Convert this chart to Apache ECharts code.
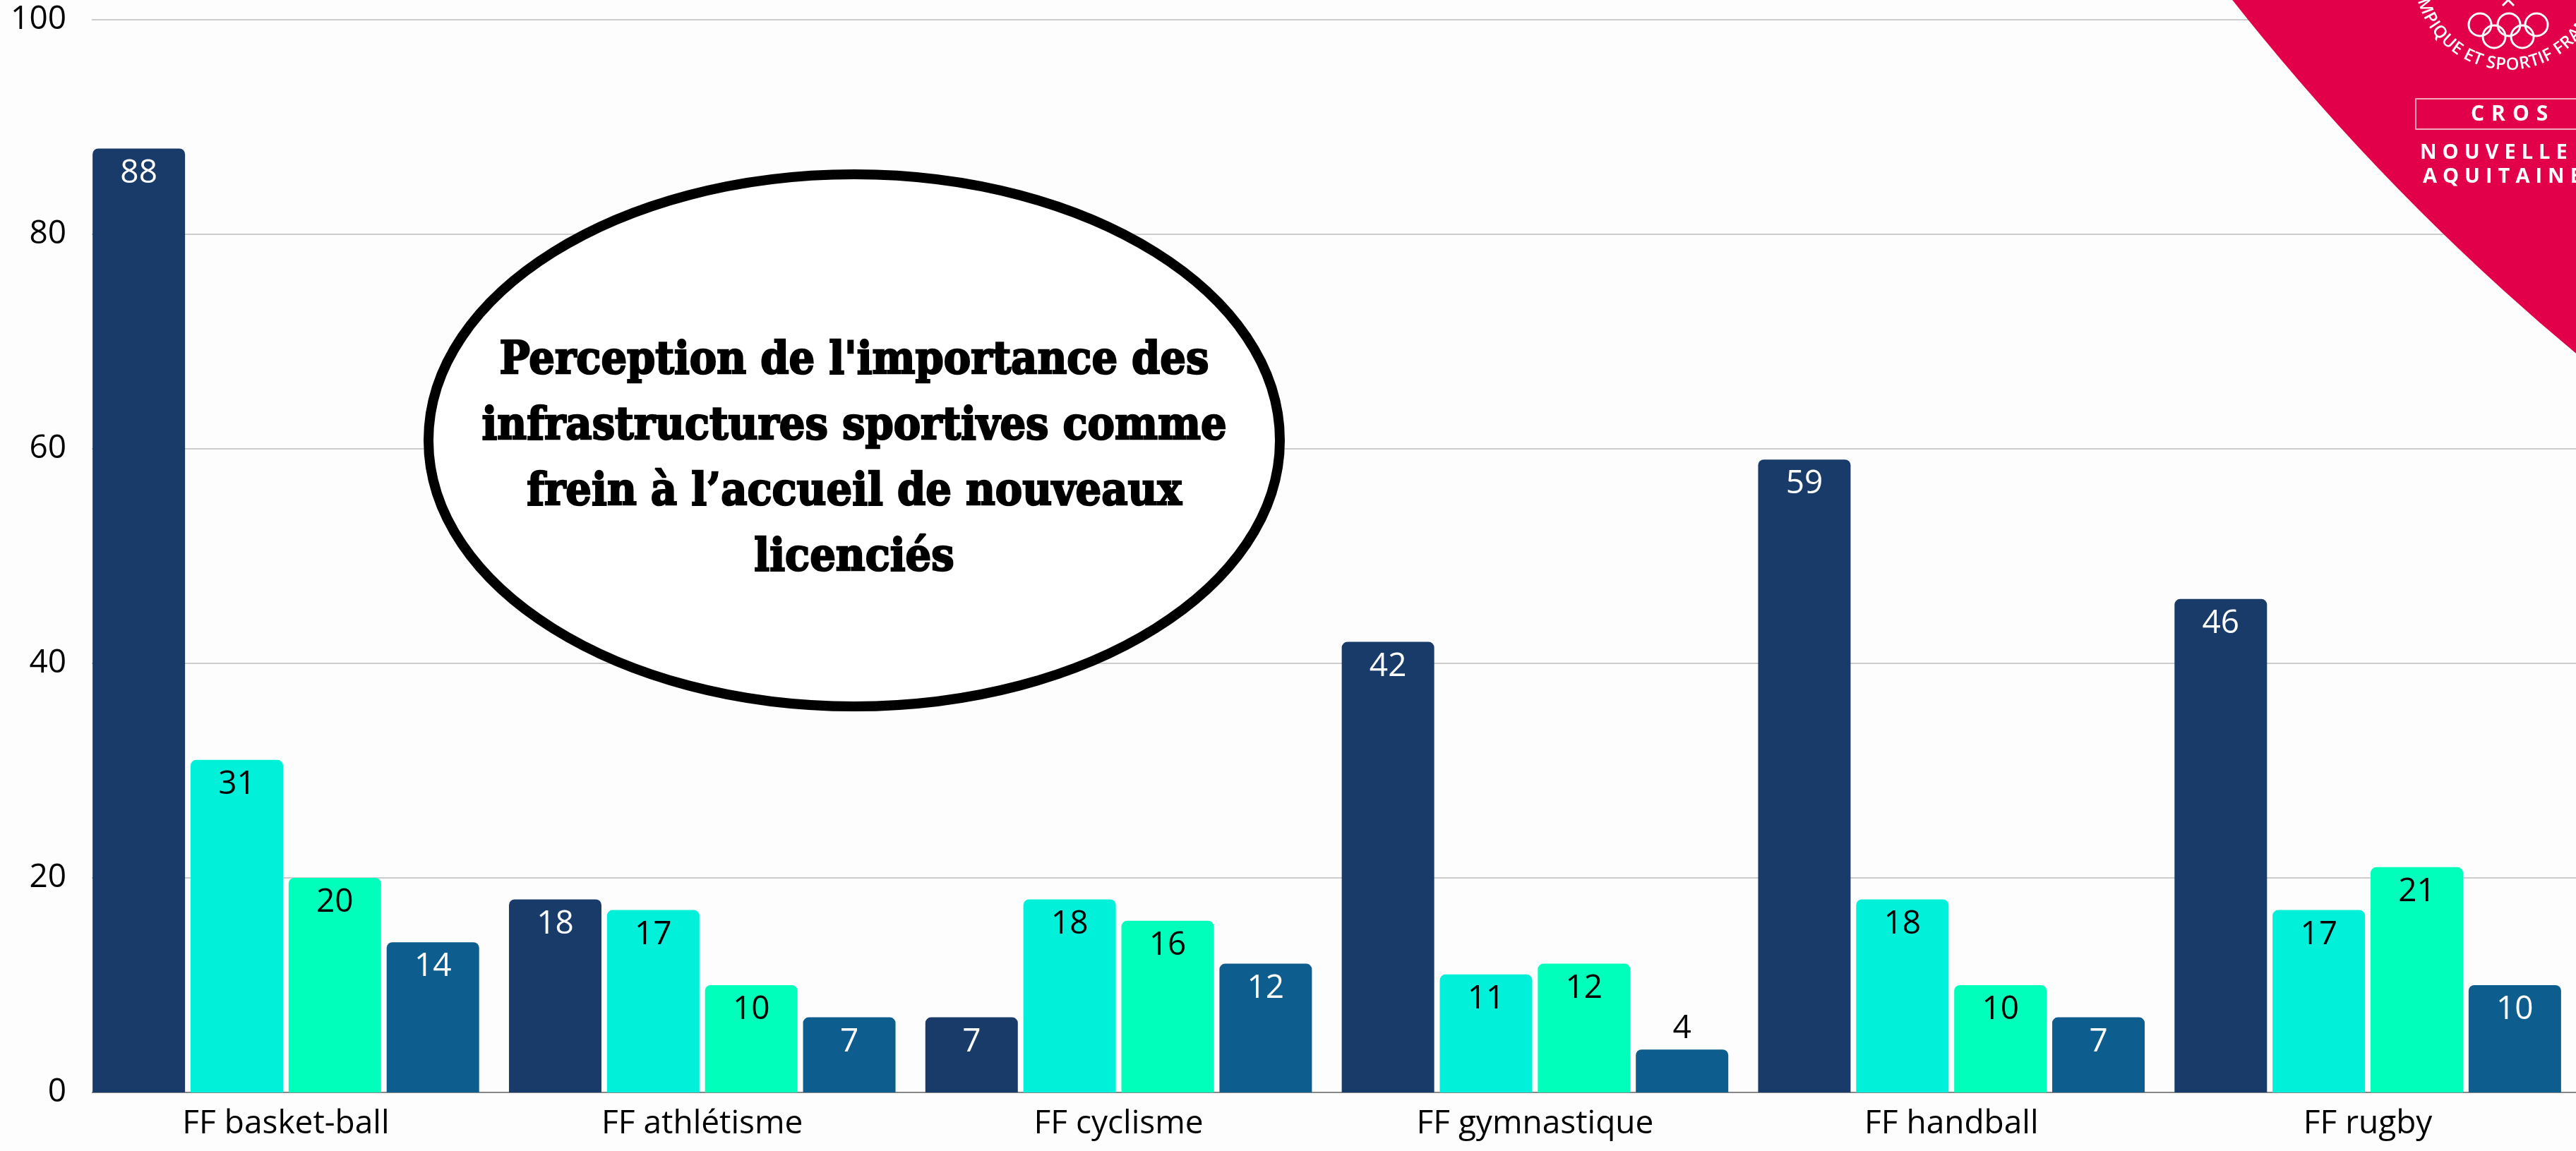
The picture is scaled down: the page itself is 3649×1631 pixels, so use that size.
<!DOCTYPE html>
<html>
<head>
<meta charset="utf-8">
<script src="https://cdn.jsdelivr.net/npm/echarts/dist/echarts.min.js"></script>
<style>
  html, body { margin: 0; padding: 0; background: #fdfdfd; }
  #chart { width: 3649px; height: 1631px; }
</style>
</head>
<body>
<div id="chart"></div>
<script>
// données
var categories = ['FF basket-ball', 'FF athlétisme', 'FF cyclisme', 'FF gymnastique', 'FF handball', 'FF rugby'];
var serie1 = [88, 18, 7, 42, 59, 46];
var serie2 = [31, 17, 18, 11, 18, 17];
var serie3 = [20, 10, 16, 12, 10, 21];
var serie4 = [14, 7, 12, 4, 7, 10];
var yMin = 0, yMax = 100, yStep = 20;

var colors = ['#193b69', '#00f0da', '#00ffba', '#0e5d8f'];
var labelColors = ['#ffffff', '#000000', '#000000', '#ffffff'];
var titleLines = [
  "Perception de l'importance des",
  'infrastructures sportives comme',
  'frein à l’accueil de nouveaux',
  'licenciés'
];

var ctx = document.createElement('canvas').getContext('2d');
function measure (ch, font) {
  ctx.font = font;
  return ctx.measureText(ch).width;
}

// texte espacé lettre par lettre (logo)
function spaced (text, x0, y, size, gap) {
  var font = 'bold ' + size + 'px "Open Sans"';
  var out = [];
  var x = x0;
  for (var i = 0; i < text.length; i++) {
    var w = measure(text[i], font);
    out.push({
      type: 'text', z: 21, x: x, y: y,
      style: { text: text[i], fill: '#fff', font: font, verticalAlign: 'middle' }
    });
    x += w + gap;
  }
  return out;
}

// texte en arc autour des anneaux
function arcText (text, cx, cy, r, startDeg, size) {
  var font = '600 ' + size + 'px "Open Sans"';
  var out = [];
  var deg = startDeg;
  for (var i = 0; i < text.length; i++) {
    var w = measure(text[i], font);
    var half = (w / 2) / r * 180 / Math.PI;
    deg -= half;
    var t = deg * Math.PI / 180;
    out.push({
      type: 'text', z: 21,
      x: cx + r * Math.cos(t), y: cy + r * Math.sin(t),
      rotation: -(deg - 90) * Math.PI / 180,
      style: { text: text[i], fill: '#fff', font: font, align: 'center', verticalAlign: 'middle' }
    });
    deg -= half;
  }
  return out;
}

var graphics = [
  // masque pour que la grille commence au premier bâton
  { type: 'rect', z: 1, shape: { x: 96, y: 0, width: 34, height: 1552 }, style: { fill: '#fdfdfd' } },
  // logo CROS
  { type: 'circle', z: 20, shape: { cx: 5818, cy: -2094, r: 3382 }, style: { fill: '#e2004b' } },
  { type: 'circle', z: 21, shape: { cx: 3513, cy: 35, r: 16 }, style: { fill: 'none', stroke: '#fff', lineWidth: 3 } },
  { type: 'circle', z: 21, shape: { cx: 3554, cy: 35, r: 16 }, style: { fill: 'none', stroke: '#fff', lineWidth: 3 } },
  { type: 'circle', z: 21, shape: { cx: 3593, cy: 35, r: 16 }, style: { fill: 'none', stroke: '#fff', lineWidth: 3 } },
  { type: 'circle', z: 21, shape: { cx: 3533, cy: 52, r: 16 }, style: { fill: 'none', stroke: '#fff', lineWidth: 3 } },
  { type: 'circle', z: 21, shape: { cx: 3573, cy: 52, r: 16 }, style: { fill: 'none', stroke: '#fff', lineWidth: 3 } },
  { type: 'polyline', z: 21, shape: { points: [[3545, 8], [3553, 0], [3561, 8]] }, style: { fill: 'none', stroke: '#fff', lineWidth: 3 } },
  { type: 'rect', z: 21, shape: { x: 3422, y: 140, width: 260, height: 43 }, style: { fill: 'none', stroke: '#f4a9bf', lineWidth: 2 } },
  // titre dans l'ellipse
  { type: 'ellipse', z: 30, shape: { cx: 1210, cy: 624, rx: 603, ry: 377 }, style: { fill: '#ffffff', stroke: '#000000', lineWidth: 14 } }
];
graphics = graphics
  .concat(arcText('MPIQUE ET SPORTIF FRANÇAIS', 3553, -34, 126, 165, 24))
  .concat(spaced('CROS', 3500, 162, 30, 10))
  .concat(spaced('NOUVELLE', 3428, 217, 29, 8))
  .concat(spaced('AQUITAINE', 3432, 251, 29, 8));
titleLines.forEach(function (line, i) {
  graphics.push({
    type: 'text', z: 31, x: 1210, y: 512 + i * 93,
    scaleX: 0.9,
    style: {
      text: line, fill: '#000',
      font: 'bold 64px "DejaVu Serif"',
      stroke: '#000', lineWidth: 2.5,
      align: 'center', verticalAlign: 'middle'
    }
  });
});

var seriesData = [serie1, serie2, serie3, serie4];
var series = seriesData.map(function (d, i) {
  return {
    name: 'Série ' + (i + 1),
    type: 'bar',
    barWidth: 131,
    barGap: '6%',
    // les bâtons trop courts ont leur étiquette au-dessus
    data: d.map(function (v) {
      return v < 5 ? { value: v, label: { position: 'top', color: '#000', distance: 6 } } : v;
    }),
    itemStyle: { color: colors[i], borderRadius: [8, 8, 0, 0] },
    label: {
      show: true,
      position: 'insideTop',
      distance: 12,
      color: labelColors[i],
      fontFamily: 'Open Sans',
      fontSize: 46
    }
  };
});

var chart = echarts.init(document.getElementById('chart'));
chart.setOption({
  backgroundColor: '#fdfdfd',
  animation: false,
  grid: { left: 110, right: 0, top: 28, bottom: 83 },
  xAxis: {
    type: 'category',
    data: categories,
    axisLine: { lineStyle: { color: '#888', width: 2 } },
    axisTick: { show: false },
    axisLabel: { color: '#000', fontFamily: 'Open Sans', fontSize: 46, margin: 22 }
  },
  yAxis: {
    type: 'value',
    min: yMin,
    max: yMax,
    interval: yStep,
    axisLine: { show: false },
    axisTick: { show: false },
    axisLabel: { color: '#000', fontFamily: 'Open Sans', fontSize: 46, margin: 16 },
    splitLine: { lineStyle: { color: '#cccccc', width: 2 } }
  },
  series: series,
  graphic: graphics
});
</script>
</body>
</html>
